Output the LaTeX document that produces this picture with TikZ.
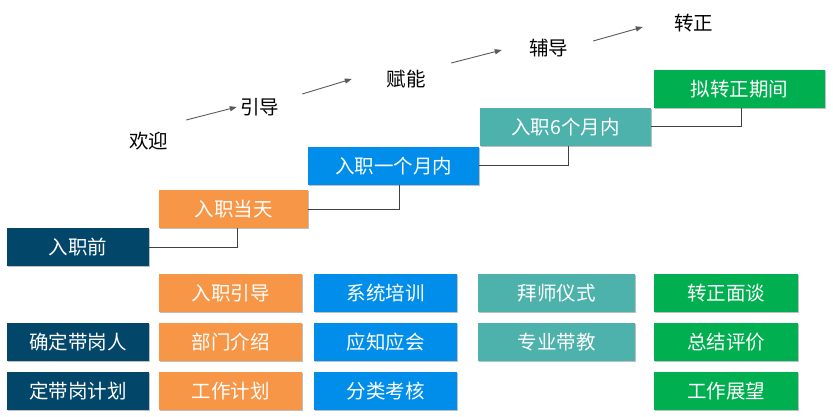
\documentclass[tikz,border=0pt]{standalone}
\usepackage{fontspec}
\setmainfont{Noto Sans CJK SC}
\usetikzlibrary{positioning,arrows.meta,shadows}
\definecolor{prenavy}{RGB}{2,71,105}
\definecolor{dayorange}{RGB}{247,150,70}
\definecolor{monthblue}{RGB}{0,142,234}
\definecolor{halfteal}{RGB}{77,177,172}
\definecolor{reggreen}{RGB}{0,176,80}
\tikzset{
  stage/.style={minimum height=38pt, inner sep=0pt, outer sep=0pt, text=white,
    font=\fontsize{19.5}{20}\selectfont,
    drop shadow={shadow xshift=1pt, shadow yshift=-1pt, opacity=.25, fill=black}},
  prebox/.style={stage, fill=prenavy, minimum width=142pt},
  daybox/.style={stage, fill=dayorange, minimum width=143pt},
  monthbox/.style={stage, fill=monthblue, minimum width=143pt},
  halfbox/.style={stage, fill=halfteal, minimum width=157pt},
  regbox/.style={stage, fill=reggreen, minimum width=144pt},
  word/.style={inner sep=0pt, font=\fontsize{19.5}{20}\selectfont},
  link/.style={draw=black!75, line width=1pt},
  flow/.style={draw=black!65, line width=.9pt, -{Triangle[length=7pt,width=5pt]}}
}
\begin{document}
\begin{tikzpicture}[x=1pt, y=1pt]
    \useasboundingbox (0,0) rectangle (833,-417);

    \node (pre) [prebox, anchor=north west] at (7,-228) {入职前};
    \node (day) [daybox, minimum width=149pt, above right=0pt and 10pt of pre] {入职当天};
    \node (month) [monthbox, minimum width=171pt, above right=5pt and 0pt of day] {入职一个月内};
    \node (half) [halfbox, minimum width=171pt, above right=1pt and 1pt of month] {入职6个月内};
    \node (reg) [regbox, minimum width=171pt, above right=0pt and 3pt of half] {拟转正期间};

    \draw[link] (pre.east) -| ([xshift=3.5pt]day.south);
    \draw[link] (day.east) -| ([xshift=5.5pt]month.south);
    \draw[link] (month.east) -| ([xshift=2.5pt]half.south);
    \draw[link] (half.east) -| ([xshift=1.5pt]reg.south);

    \node (hy) [word] at (148.5,-141) {欢迎};
    \node (yd) [word] at (259.5,-107) {引导};
    \node (fn) [word] at (406,-79) {赋能};
    \node (fd) [word] at (548.5,-48) {辅导};
    \node (zz) [word] at (693.5,-23) {转正};

    \draw[flow] ([shift={(18pt,21pt)}]hy.east) -- ([xshift=-3pt]yd.west);
    \draw[flow] ([shift={(23pt,13pt)}]yd.east) -- ([xshift=-34.5pt]fn.west);
    \draw[flow] ([shift={(25.5pt,16pt)}]fn.east) -- ([shift={(-27pt,-2pt)}]fd.west);
    \draw[flow] ([shift={(25pt,7pt)}]fd.east) -- ([shift={(-31pt,-4pt)}]zz.west);

    \node (guide) [daybox, anchor=north west] at (159,-274) {入职引导};
    \node (train) [monthbox, right=12pt of guide] {系统培训};
    \node (rite) [halfbox, right=21pt of train] {拜师仪式};
    \node (talk) [regbox, right=19pt of rite] {转正面谈};

    \node (dept) [daybox, below=11pt of guide] {部门介绍};
    \node (mentor) [prebox, left=10pt of dept] {确定带岗人};
    \node (know) [monthbox, below=11pt of train] {应知应会};
    \node (teach) [halfbox, below=11pt of rite] {专业带教};
    \node (sum) [regbox, below=11pt of talk] {总结评价};

    \node (work) [daybox, below=11pt of dept] {工作计划};
    \node (plan) [prebox, left=10pt of work] {定带岗计划};
    \node (exam) [monthbox, below=11pt of know] {分类考核};
    \node (view) [regbox, below=11pt of sum] {工作展望};
\end{tikzpicture}
\end{document}
